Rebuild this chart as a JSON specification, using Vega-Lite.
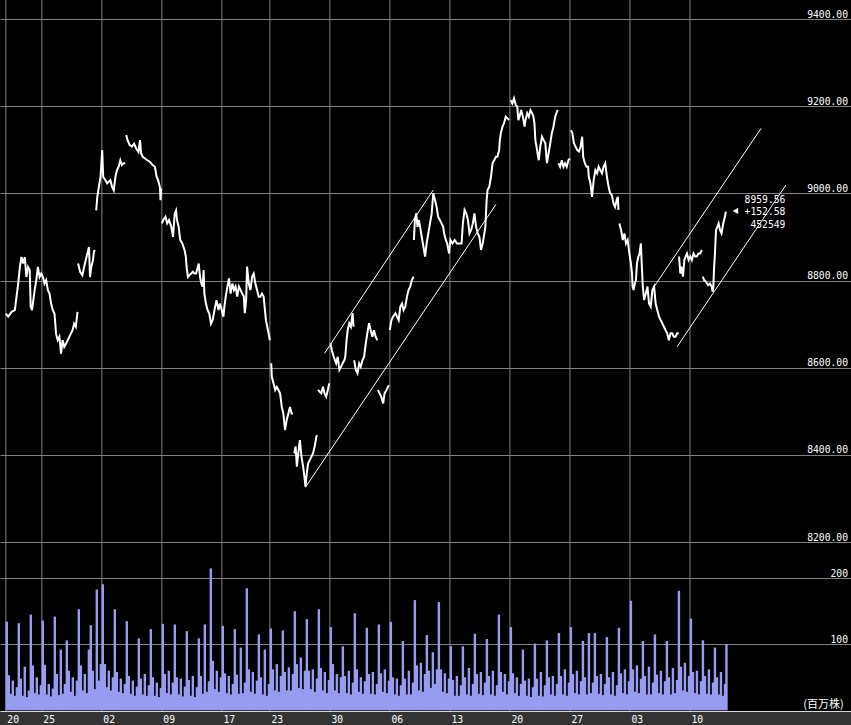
{
"$schema": "https://vega.github.io/schema/vega-lite/v6.json",
"width": 851, "height": 711,
"autosize": {"type": "none"},
"padding": {"left": 0, "top": 0, "right": 0, "bottom": 14},
"background": "#333333",
"config": {
 "view": {"fill": "#000000", "stroke": null},
 "font": "DejaVu Sans Mono",
 "axis": {"gridColor": "#808080", "gridWidth": 1, "gridOpacity": 1, "domain": false, "ticks": false, "tickSize": 0, "labelColor": "#ffffff", "labelFont": "DejaVu Sans Mono", "labelFontSize": 9.7, "title": null}
},
"datasets": {
 "grid": [{"t":0},{"t":3},{"t":8},{"t":13},{"t":18},{"t":22},{"t":27},{"t":32},{"t":37},{"t":42},{"t":47},{"t":52},{"t":57}],
 "price": [
{"s":1,"t":0.00,"p":8724},{"s":1,"t":0.20,"p":8717},{"s":1,"t":0.48,"p":8728},{"s":1,"t":0.75,"p":8732},{"s":1,"t":0.89,"p":8763},{"s":1,"t":1.03,"p":8793},{"s":1,"t":1.17,"p":8831},{"s":1,"t":1.30,"p":8854},{"s":1,"t":1.44,"p":8839},{"s":1,"t":1.58,"p":8854},{"s":1,"t":1.71,"p":8808},{"s":1,"t":1.85,"p":8831},{"s":1,"t":1.99,"p":8824},{"s":1,"t":2.07,"p":8740},{"s":1,"t":2.18,"p":8732},{"s":1,"t":2.40,"p":8778},{"s":1,"t":2.54,"p":8801},{"s":1,"t":2.67,"p":8831},{"s":1,"t":2.81,"p":8808},{"s":1,"t":2.95,"p":8816},{"s":1,"t":3.09,"p":8808},{"s":1,"t":3.22,"p":8793},{"s":1,"t":3.36,"p":8801},{"s":1,"t":3.50,"p":8778},{"s":1,"t":3.64,"p":8770},{"s":1,"t":3.77,"p":8747},{"s":1,"t":3.91,"p":8732},{"s":1,"t":4.05,"p":8724},{"s":1,"t":4.10,"p":8709},{"s":1,"t":4.18,"p":8678},{"s":1,"t":4.32,"p":8663},{"s":1,"t":4.46,"p":8671},{"s":1,"t":4.60,"p":8632},{"s":1,"t":4.73,"p":8663},{"s":1,"t":4.87,"p":8648},{"s":1,"t":5.01,"p":8655},{"s":1,"t":5.15,"p":8663},{"s":1,"t":5.42,"p":8678},{"s":1,"t":5.56,"p":8686},{"s":1,"t":5.69,"p":8701},{"s":1,"t":5.83,"p":8694},{"s":1,"t":5.97,"p":8728},
{"s":2,"t":6.02,"p":8839},{"s":2,"t":6.19,"p":8820},{"s":2,"t":6.38,"p":8812},{"s":2,"t":6.52,"p":8831},{"s":2,"t":6.66,"p":8847},{"s":2,"t":6.79,"p":8862},{"s":2,"t":6.93,"p":8877},{"s":2,"t":7.01,"p":8808},{"s":2,"t":7.12,"p":8831},{"s":2,"t":7.26,"p":8847},{"s":2,"t":7.34,"p":8866},{"s":2,"t":7.42,"p":8870},
{"s":3,"t":7.53,"p":8961},{"s":3,"t":7.62,"p":8992},{"s":3,"t":7.75,"p":9015},{"s":3,"t":7.89,"p":9038},{"s":3,"t":8.03,"p":9099},{"s":3,"t":8.11,"p":9038},{"s":3,"t":8.30,"p":9030},{"s":3,"t":8.44,"p":9023},{"s":3,"t":8.71,"p":9030},{"s":3,"t":8.85,"p":9015},{"s":3,"t":8.99,"p":9007},{"s":3,"t":9.13,"p":9038},{"s":3,"t":9.26,"p":9053},{"s":3,"t":9.40,"p":9061},{"s":3,"t":9.54,"p":9076},{"s":3,"t":9.67,"p":9065},{"s":3,"t":9.81,"p":9069},{"s":3,"t":9.95,"p":9069},
{"s":4,"t":10.03,"p":9134},{"s":4,"t":10.14,"p":9122},{"s":4,"t":10.31,"p":9111},{"s":4,"t":10.50,"p":9107},{"s":4,"t":10.69,"p":9114},{"s":4,"t":10.86,"p":9103},{"s":4,"t":11.05,"p":9095},{"s":4,"t":11.18,"p":9122},{"s":4,"t":11.27,"p":9092},{"s":4,"t":11.40,"p":9084},{"s":4,"t":11.60,"p":9080},{"s":4,"t":11.79,"p":9076},{"s":4,"t":12.01,"p":9072},{"s":4,"t":12.23,"p":9065},{"s":4,"t":12.42,"p":9061},{"s":4,"t":12.56,"p":9038},{"s":4,"t":12.69,"p":9030},{"s":4,"t":12.83,"p":9015},{"s":4,"t":12.89,"p":8984},{"s":4,"t":12.94,"p":9011},
{"s":5,"t":13.00,"p":8931},{"s":5,"t":13.11,"p":8939},{"s":5,"t":13.30,"p":8946},{"s":5,"t":13.44,"p":8931},{"s":5,"t":13.60,"p":8939},{"s":5,"t":13.79,"p":8923},{"s":5,"t":13.93,"p":8900},{"s":5,"t":14.07,"p":8954},{"s":5,"t":14.18,"p":8961},{"s":5,"t":14.26,"p":8939},{"s":5,"t":14.40,"p":8923},{"s":5,"t":14.53,"p":8893},{"s":5,"t":14.70,"p":8885},{"s":5,"t":14.89,"p":8870},{"s":5,"t":15.00,"p":8854},{"s":5,"t":15.06,"p":8831},{"s":5,"t":15.17,"p":8808},{"s":5,"t":15.30,"p":8812},{"s":5,"t":15.44,"p":8816},{"s":5,"t":15.58,"p":8820},{"s":5,"t":15.71,"p":8816},{"s":5,"t":15.85,"p":8816},{"s":5,"t":15.99,"p":8831},{"s":5,"t":16.07,"p":8839},{"s":5,"t":16.18,"p":8808},{"s":5,"t":16.29,"p":8793},{"s":5,"t":16.40,"p":8786},{"s":5,"t":16.48,"p":8824},{"s":5,"t":16.54,"p":8770},{"s":5,"t":16.67,"p":8747},{"s":5,"t":16.81,"p":8732},{"s":5,"t":16.95,"p":8724},{"s":5,"t":17.09,"p":8701},{"s":5,"t":17.22,"p":8709},{"s":5,"t":17.28,"p":8717},{"s":5,"t":17.44,"p":8740},{"s":5,"t":17.55,"p":8755},{"s":5,"t":17.72,"p":8732},{"s":5,"t":17.83,"p":8747},{"s":5,"t":17.99,"p":8732},{"s":5,"t":18.13,"p":8717},{"s":5,"t":18.21,"p":8740},{"s":5,"t":18.32,"p":8763},{"s":5,"t":18.46,"p":8786},{"s":5,"t":18.59,"p":8805},{"s":5,"t":18.73,"p":8770},{"s":5,"t":18.87,"p":8793},{"s":5,"t":19.01,"p":8778},{"s":5,"t":19.14,"p":8786},{"s":5,"t":19.28,"p":8763},{"s":5,"t":19.42,"p":8786},{"s":5,"t":19.56,"p":8778},{"s":5,"t":19.69,"p":8770},{"s":5,"t":19.83,"p":8763},{"s":5,"t":19.91,"p":8725},{"s":5,"t":20.02,"p":8755},{"s":5,"t":20.10,"p":8832},{"s":5,"t":20.24,"p":8793},{"s":5,"t":20.38,"p":8778},{"s":5,"t":20.52,"p":8809},{"s":5,"t":20.65,"p":8816},{"s":5,"t":20.79,"p":8793},{"s":5,"t":20.93,"p":8778},{"s":5,"t":21.07,"p":8763},{"s":5,"t":21.20,"p":8763},{"s":5,"t":21.34,"p":8770},{"s":5,"t":21.48,"p":8763},{"s":5,"t":21.56,"p":8740},{"s":5,"t":21.67,"p":8709},{"s":5,"t":21.78,"p":8694},{"s":5,"t":21.89,"p":8679},{"s":5,"t":22.00,"p":8663},
{"s":6,"t":22.11,"p":8610},{"s":6,"t":22.16,"p":8579},{"s":6,"t":22.30,"p":8564},{"s":6,"t":22.44,"p":8549},{"s":6,"t":22.57,"p":8556},{"s":6,"t":22.71,"p":8549},{"s":6,"t":22.85,"p":8541},{"s":6,"t":22.99,"p":8510},{"s":6,"t":23.12,"p":8495},{"s":6,"t":23.26,"p":8457},{"s":6,"t":23.40,"p":8480},{"s":6,"t":23.54,"p":8495},{"s":6,"t":23.67,"p":8510},{"s":6,"t":23.81,"p":8495},{"s":6,"t":23.92,"p":8495},
{"s":7,"t":24.03,"p":8403},{"s":7,"t":24.14,"p":8419},{"s":7,"t":24.25,"p":8373},{"s":7,"t":24.36,"p":8403},{"s":7,"t":24.50,"p":8434},{"s":7,"t":24.63,"p":8396},{"s":7,"t":24.77,"p":8373},{"s":7,"t":24.91,"p":8342},{"s":7,"t":24.96,"p":8327},{"s":7,"t":25.07,"p":8357},{"s":7,"t":25.18,"p":8380},{"s":7,"t":25.32,"p":8388},{"s":7,"t":25.46,"p":8396},{"s":7,"t":25.59,"p":8403},{"s":7,"t":25.73,"p":8419},{"s":7,"t":25.87,"p":8442},{"s":7,"t":25.95,"p":8445},
{"s":8,"t":26.01,"p":8549},{"s":8,"t":26.14,"p":8545},{"s":8,"t":26.28,"p":8541},{"s":8,"t":26.42,"p":8556},{"s":8,"t":26.55,"p":8541},{"s":8,"t":26.69,"p":8533},{"s":8,"t":26.83,"p":8549},{"s":8,"t":26.94,"p":8564},
{"s":9,"t":27.05,"p":8656},{"s":9,"t":27.16,"p":8640},{"s":9,"t":27.32,"p":8625},{"s":9,"t":27.52,"p":8610},{"s":9,"t":27.65,"p":8625},{"s":9,"t":27.79,"p":8595},{"s":9,"t":27.93,"p":8602},{"s":9,"t":28.06,"p":8610},{"s":9,"t":28.20,"p":8617},{"s":9,"t":28.28,"p":8625},{"s":9,"t":28.39,"p":8663},{"s":9,"t":28.48,"p":8686},{"s":9,"t":28.61,"p":8702},{"s":9,"t":28.75,"p":8694},{"s":9,"t":28.89,"p":8725},{"s":9,"t":28.97,"p":8694},
{"s":10,"t":29.02,"p":8617},{"s":10,"t":29.16,"p":8595},{"s":10,"t":29.30,"p":8587},{"s":10,"t":29.44,"p":8610},{"s":10,"t":29.57,"p":8602},{"s":10,"t":29.71,"p":8617},{"s":10,"t":29.85,"p":8625},{"s":10,"t":29.99,"p":8656},{"s":10,"t":30.12,"p":8679},{"s":10,"t":30.26,"p":8702},{"s":10,"t":30.40,"p":8686},{"s":10,"t":30.54,"p":8671},{"s":10,"t":30.67,"p":8686},{"s":10,"t":30.81,"p":8671},{"s":10,"t":30.95,"p":8663},
{"s":11,"t":31.00,"p":8549},{"s":11,"t":31.14,"p":8541},{"s":11,"t":31.28,"p":8533},{"s":11,"t":31.44,"p":8518},{"s":11,"t":31.55,"p":8541},{"s":11,"t":31.72,"p":8549},{"s":11,"t":31.91,"p":8560},
{"s":12,"t":31.99,"p":8686},{"s":12,"t":32.13,"p":8709},{"s":12,"t":32.26,"p":8717},{"s":12,"t":32.46,"p":8725},{"s":12,"t":32.59,"p":8717},{"s":12,"t":32.73,"p":8709},{"s":12,"t":32.87,"p":8740},{"s":12,"t":33.01,"p":8747},{"s":12,"t":33.14,"p":8732},{"s":12,"t":33.28,"p":8740},{"s":12,"t":33.42,"p":8763},{"s":12,"t":33.55,"p":8778},{"s":12,"t":33.69,"p":8786},{"s":12,"t":33.83,"p":8801},{"s":12,"t":33.97,"p":8809},
{"s":13,"t":34.00,"p":8893},{"s":13,"t":34.08,"p":8939},{"s":13,"t":34.19,"p":8954},{"s":13,"t":34.30,"p":8923},{"s":13,"t":34.41,"p":8939},{"s":13,"t":34.52,"p":8923},{"s":13,"t":34.65,"p":8900},{"s":13,"t":34.79,"p":8878},{"s":13,"t":34.93,"p":8855},{"s":13,"t":35.06,"p":8885},{"s":13,"t":35.20,"p":8908},{"s":13,"t":35.34,"p":8931},{"s":13,"t":35.48,"p":8954},{"s":13,"t":35.61,"p":9000},{"s":13,"t":35.75,"p":8985},{"s":13,"t":35.89,"p":8969},{"s":13,"t":36.02,"p":8946},{"s":13,"t":36.16,"p":8939},{"s":13,"t":36.30,"p":8931},{"s":13,"t":36.44,"p":8923},{"s":13,"t":36.52,"p":8908},{"s":13,"t":36.66,"p":8893},{"s":13,"t":36.77,"p":8885},{"s":13,"t":36.93,"p":8862},{"s":13,"t":37.04,"p":8893},{"s":13,"t":37.21,"p":8885},{"s":13,"t":37.40,"p":8893},{"s":13,"t":37.59,"p":8885},{"s":13,"t":37.81,"p":8885},{"s":13,"t":37.97,"p":8885},{"s":13,"t":38.08,"p":8931},{"s":13,"t":38.22,"p":8962},{"s":13,"t":38.36,"p":8954},{"s":13,"t":38.50,"p":8939},{"s":13,"t":38.63,"p":8908},{"s":13,"t":38.77,"p":8916},{"s":13,"t":38.91,"p":8931},{"s":13,"t":39.04,"p":8954},{"s":13,"t":39.18,"p":8923},{"s":13,"t":39.32,"p":8908},{"s":13,"t":39.46,"p":8900},{"s":13,"t":39.59,"p":8870},{"s":13,"t":39.73,"p":8885},{"s":13,"t":39.87,"p":8908},{"s":13,"t":39.95,"p":8923},{"s":13,"t":40.06,"p":8985},{"s":13,"t":40.14,"p":9008},{"s":13,"t":40.28,"p":9015},{"s":13,"t":40.42,"p":9038},{"s":13,"t":40.55,"p":9069},{"s":13,"t":40.69,"p":9076},{"s":13,"t":40.83,"p":9084},{"s":13,"t":40.96,"p":9084},{"s":13,"t":41.10,"p":9099},{"s":13,"t":41.16,"p":9122},{"s":13,"t":41.24,"p":9138},{"s":13,"t":41.38,"p":9153},{"s":13,"t":41.51,"p":9161},{"s":13,"t":41.65,"p":9176},{"s":13,"t":41.79,"p":9172},{"s":13,"t":41.93,"p":9168},
{"s":14,"t":42.06,"p":9214},{"s":14,"t":42.20,"p":9206},{"s":14,"t":42.34,"p":9218},{"s":14,"t":42.48,"p":9203},{"s":14,"t":42.61,"p":9199},{"s":14,"t":42.70,"p":9168},{"s":14,"t":42.80,"p":9176},{"s":14,"t":42.94,"p":9191},{"s":14,"t":43.08,"p":9176},{"s":14,"t":43.22,"p":9153},{"s":14,"t":43.30,"p":9168},{"s":14,"t":43.44,"p":9184},{"s":14,"t":43.57,"p":9176},{"s":14,"t":43.71,"p":9191},{"s":14,"t":43.85,"p":9184},{"s":14,"t":43.96,"p":9176},{"s":14,"t":44.04,"p":9161},{"s":14,"t":44.12,"p":9122},{"s":14,"t":44.26,"p":9099},{"s":14,"t":44.40,"p":9076},{"s":14,"t":44.53,"p":9107},{"s":14,"t":44.67,"p":9130},{"s":14,"t":44.81,"p":9122},{"s":14,"t":44.95,"p":9115},{"s":14,"t":45.08,"p":9069},{"s":14,"t":45.22,"p":9092},{"s":14,"t":45.36,"p":9115},{"s":14,"t":45.49,"p":9138},{"s":14,"t":45.63,"p":9153},{"s":14,"t":45.77,"p":9176},{"s":14,"t":45.91,"p":9187},{"s":14,"t":45.99,"p":9191},
{"s":15,"t":46.04,"p":9069},{"s":15,"t":46.18,"p":9061},{"s":15,"t":46.32,"p":9076},{"s":15,"t":46.46,"p":9061},{"s":15,"t":46.59,"p":9069},{"s":15,"t":46.73,"p":9061},{"s":15,"t":46.87,"p":9076},{"s":15,"t":47.00,"p":9080},
{"s":16,"t":47.09,"p":9145},{"s":16,"t":47.20,"p":9138},{"s":16,"t":47.33,"p":9115},{"s":16,"t":47.47,"p":9107},{"s":16,"t":47.61,"p":9099},{"s":16,"t":47.75,"p":9096},{"s":16,"t":47.88,"p":9107},{"s":16,"t":48.02,"p":9130},{"s":16,"t":48.10,"p":9084},{"s":16,"t":48.24,"p":9069},{"s":16,"t":48.38,"p":9061},{"s":16,"t":48.51,"p":9061},{"s":16,"t":48.57,"p":9038},{"s":16,"t":48.71,"p":9023},{"s":16,"t":48.84,"p":8992},{"s":16,"t":48.98,"p":9031},{"s":16,"t":49.12,"p":9053},{"s":16,"t":49.26,"p":9046},{"s":16,"t":49.39,"p":9061},{"s":16,"t":49.53,"p":9053},{"s":16,"t":49.67,"p":9046},{"s":16,"t":49.80,"p":9061},{"s":16,"t":49.94,"p":9069},{"s":16,"t":50.08,"p":9038},{"s":16,"t":50.22,"p":9015},{"s":16,"t":50.35,"p":9000},{"s":16,"t":50.49,"p":8996},{"s":16,"t":50.63,"p":8977},{"s":16,"t":50.76,"p":8969},{"s":16,"t":50.90,"p":8985},{"s":16,"t":50.99,"p":8992},{"s":16,"t":51.04,"p":8962},
{"s":17,"t":51.12,"p":8931},{"s":17,"t":51.26,"p":8916},{"s":17,"t":51.40,"p":8893},{"s":17,"t":51.54,"p":8908},{"s":17,"t":51.67,"p":8885},{"s":17,"t":51.81,"p":8893},{"s":17,"t":51.95,"p":8862},{"s":17,"t":52.08,"p":8839},{"s":17,"t":52.17,"p":8816},{"s":17,"t":52.22,"p":8786},{"s":17,"t":52.30,"p":8778},{"s":17,"t":52.41,"p":8793},{"s":17,"t":52.50,"p":8801},{"s":17,"t":52.58,"p":8839},{"s":17,"t":52.69,"p":8854},{"s":17,"t":52.80,"p":8862},{"s":17,"t":52.91,"p":8885},{"s":17,"t":52.99,"p":8832},{"s":17,"t":53.07,"p":8786},{"s":17,"t":53.18,"p":8755},{"s":17,"t":53.32,"p":8770},{"s":17,"t":53.46,"p":8786},{"s":17,"t":53.59,"p":8747},{"s":17,"t":53.73,"p":8740},{"s":17,"t":53.87,"p":8778},{"s":17,"t":54.01,"p":8786},{"s":17,"t":54.14,"p":8747},{"s":17,"t":54.28,"p":8732},{"s":17,"t":54.42,"p":8717},{"s":17,"t":54.56,"p":8709},{"s":17,"t":54.69,"p":8702},{"s":17,"t":54.83,"p":8694},{"s":17,"t":54.97,"p":8686},{"s":17,"t":55.10,"p":8679},{"s":17,"t":55.24,"p":8663},{"s":17,"t":55.38,"p":8679},{"s":17,"t":55.52,"p":8679},{"s":17,"t":55.65,"p":8671},{"s":17,"t":55.79,"p":8671},{"s":17,"t":55.93,"p":8679},{"s":17,"t":56.07,"p":8679},
{"s":18,"t":56.09,"p":8855},{"s":18,"t":56.20,"p":8816},{"s":18,"t":56.28,"p":8832},{"s":18,"t":56.42,"p":8809},{"s":18,"t":56.53,"p":8847},{"s":18,"t":56.64,"p":8855},{"s":18,"t":56.75,"p":8862},{"s":18,"t":56.89,"p":8847},{"s":18,"t":57.03,"p":8855},{"s":18,"t":57.16,"p":8847},{"s":18,"t":57.30,"p":8862},{"s":18,"t":57.44,"p":8855},{"s":18,"t":57.57,"p":8855},{"s":18,"t":57.71,"p":8862},{"s":18,"t":57.85,"p":8862},{"s":18,"t":57.99,"p":8870},
{"s":19,"t":58.07,"p":8809},{"s":19,"t":58.18,"p":8801},{"s":19,"t":58.34,"p":8797},{"s":19,"t":58.51,"p":8789},{"s":19,"t":58.67,"p":8793},{"s":19,"t":58.81,"p":8786},{"s":19,"t":58.89,"p":8774},{"s":19,"t":58.95,"p":8786},{"s":19,"t":59.00,"p":8824},{"s":19,"t":59.08,"p":8862},{"s":19,"t":59.17,"p":8916},{"s":19,"t":59.28,"p":8923},{"s":19,"t":59.39,"p":8931},{"s":19,"t":59.50,"p":8916},{"s":19,"t":59.63,"p":8908},{"s":19,"t":59.77,"p":8931},{"s":19,"t":59.91,"p":8946},{"s":19,"t":59.99,"p":8958}
 ],
 "vol": [
{"t":0.08,"v":134},{"t":0.25,"v":53},{"t":0.42,"v":25},{"t":0.58,"v":45},{"t":0.75,"v":22},{"t":0.92,"v":35},
{"t":1.08,"v":132},{"t":1.25,"v":48},{"t":1.42,"v":22},{"t":1.58,"v":66},{"t":1.75,"v":20},{"t":1.92,"v":30},
{"t":2.08,"v":145},{"t":2.25,"v":68},{"t":2.42,"v":26},{"t":2.58,"v":50},{"t":2.75,"v":24},{"t":2.92,"v":38},
{"t":3.08,"v":136},{"t":3.25,"v":69},{"t":3.42,"v":24},{"t":3.58,"v":40},{"t":3.75,"v":21},{"t":3.92,"v":33},
{"t":4.08,"v":142},{"t":4.25,"v":55},{"t":4.42,"v":23},{"t":4.58,"v":92},{"t":4.75,"v":25},{"t":4.92,"v":40},
{"t":5.08,"v":106},{"t":5.25,"v":60},{"t":5.42,"v":28},{"t":5.58,"v":50},{"t":5.75,"v":22},{"t":5.92,"v":45},
{"t":6.08,"v":153},{"t":6.25,"v":68},{"t":6.42,"v":30},{"t":6.58,"v":55},{"t":6.75,"v":26},{"t":6.92,"v":92},
{"t":7.08,"v":129},{"t":7.25,"v":60},{"t":7.42,"v":32},{"t":7.58,"v":183},{"t":7.75,"v":45},{"t":7.92,"v":70},
{"t":8.08,"v":191},{"t":8.25,"v":70},{"t":8.42,"v":35},{"t":8.58,"v":60},{"t":8.75,"v":30},{"t":8.92,"v":50},
{"t":9.08,"v":153},{"t":9.25,"v":58},{"t":9.42,"v":28},{"t":9.58,"v":48},{"t":9.75,"v":26},{"t":9.92,"v":40},
{"t":10.08,"v":135},{"t":10.25,"v":52},{"t":10.42,"v":25},{"t":10.58,"v":45},{"t":10.75,"v":22},{"t":10.92,"v":36},
{"t":11.08,"v":109},{"t":11.25,"v":48},{"t":11.42,"v":24},{"t":11.58,"v":55},{"t":11.75,"v":22},{"t":11.92,"v":38},
{"t":12.08,"v":123},{"t":12.25,"v":50},{"t":12.42,"v":22},{"t":12.58,"v":42},{"t":12.75,"v":20},{"t":12.92,"v":34},
{"t":13.08,"v":131},{"t":13.25,"v":55},{"t":13.42,"v":26},{"t":13.58,"v":60},{"t":13.75,"v":24},{"t":13.92,"v":42},
{"t":14.08,"v":130},{"t":14.25,"v":50},{"t":14.42,"v":24},{"t":14.58,"v":48},{"t":14.75,"v":21},{"t":14.92,"v":36},
{"t":15.08,"v":120},{"t":15.25,"v":46},{"t":15.42,"v":22},{"t":15.58,"v":52},{"t":15.75,"v":20},{"t":15.92,"v":35},
{"t":16.08,"v":109},{"t":16.25,"v":52},{"t":16.42,"v":25},{"t":16.58,"v":130},{"t":16.75,"v":28},{"t":16.92,"v":44},
{"t":17.08,"v":215},{"t":17.25,"v":75},{"t":17.42,"v":32},{"t":17.58,"v":60},{"t":17.75,"v":28},{"t":17.92,"v":50},
{"t":18.08,"v":128},{"t":18.25,"v":56},{"t":18.42,"v":26},{"t":18.58,"v":52},{"t":18.75,"v":24},{"t":18.92,"v":40},
{"t":19.08,"v":123},{"t":19.25,"v":54},{"t":19.42,"v":25},{"t":19.58,"v":95},{"t":19.75,"v":26},{"t":19.92,"v":42},
{"t":20.08,"v":185},{"t":20.25,"v":62},{"t":20.42,"v":28},{"t":20.58,"v":58},{"t":20.75,"v":25},{"t":20.92,"v":45},
{"t":21.08,"v":115},{"t":21.25,"v":50},{"t":21.42,"v":24},{"t":21.58,"v":92},{"t":21.75,"v":22},{"t":21.92,"v":40},
{"t":22.08,"v":124},{"t":22.25,"v":62},{"t":22.42,"v":30},{"t":22.58,"v":70},{"t":22.75,"v":28},{"t":22.92,"v":52},
{"t":23.08,"v":121},{"t":23.25,"v":58},{"t":23.42,"v":30},{"t":23.58,"v":65},{"t":23.75,"v":30},{"t":23.92,"v":55},
{"t":24.08,"v":150},{"t":24.25,"v":70},{"t":24.42,"v":34},{"t":24.58,"v":80},{"t":24.75,"v":32},{"t":24.92,"v":60},
{"t":25.08,"v":138},{"t":25.25,"v":60},{"t":25.42,"v":32},{"t":25.58,"v":62},{"t":25.75,"v":28},{"t":25.92,"v":48},
{"t":26.08,"v":153},{"t":26.25,"v":64},{"t":26.42,"v":30},{"t":26.58,"v":58},{"t":26.75,"v":26},{"t":26.92,"v":46},
{"t":27.08,"v":126},{"t":27.25,"v":70},{"t":27.42,"v":30},{"t":27.58,"v":55},{"t":27.75,"v":26},{"t":27.92,"v":50},
{"t":28.08,"v":97},{"t":28.25,"v":52},{"t":28.42,"v":26},{"t":28.58,"v":60},{"t":28.75,"v":24},{"t":28.92,"v":42},
{"t":29.08,"v":147},{"t":29.25,"v":62},{"t":29.42,"v":28},{"t":29.58,"v":50},{"t":29.75,"v":25},{"t":29.92,"v":44},
{"t":30.08,"v":125},{"t":30.25,"v":55},{"t":30.42,"v":25},{"t":30.58,"v":58},{"t":30.75,"v":24},{"t":30.92,"v":40},
{"t":31.08,"v":130},{"t":31.25,"v":56},{"t":31.42,"v":28},{"t":31.58,"v":62},{"t":31.75,"v":26},{"t":31.92,"v":45},
{"t":32.08,"v":134},{"t":32.25,"v":50},{"t":32.42,"v":24},{"t":32.58,"v":48},{"t":32.75,"v":22},{"t":32.92,"v":38},
{"t":33.08,"v":105},{"t":33.25,"v":48},{"t":33.42,"v":24},{"t":33.58,"v":60},{"t":33.75,"v":24},{"t":33.92,"v":42},
{"t":34.08,"v":167},{"t":34.25,"v":68},{"t":34.42,"v":30},{"t":34.58,"v":72},{"t":34.75,"v":28},{"t":34.92,"v":55},
{"t":35.08,"v":114},{"t":35.25,"v":60},{"t":35.42,"v":34},{"t":35.58,"v":88},{"t":35.75,"v":40},{"t":35.92,"v":62},
{"t":36.08,"v":164},{"t":36.25,"v":62},{"t":36.42,"v":28},{"t":36.58,"v":56},{"t":36.75,"v":26},{"t":36.92,"v":48},
{"t":37.08,"v":97},{"t":37.25,"v":46},{"t":37.42,"v":22},{"t":37.58,"v":52},{"t":37.75,"v":22},{"t":37.92,"v":38},
{"t":38.08,"v":97},{"t":38.25,"v":50},{"t":38.42,"v":24},{"t":38.58,"v":64},{"t":38.75,"v":22},{"t":38.92,"v":40},
{"t":39.08,"v":116},{"t":39.25,"v":55},{"t":39.42,"v":25},{"t":39.58,"v":58},{"t":39.75,"v":23},{"t":39.92,"v":42},
{"t":40.08,"v":108},{"t":40.25,"v":52},{"t":40.42,"v":24},{"t":40.58,"v":60},{"t":40.75,"v":22},{"t":40.92,"v":38},
{"t":41.08,"v":145},{"t":41.25,"v":58},{"t":41.42,"v":28},{"t":41.58,"v":55},{"t":41.75,"v":24},{"t":41.92,"v":44},
{"t":42.08,"v":126},{"t":42.25,"v":56},{"t":42.42,"v":26},{"t":42.58,"v":50},{"t":42.75,"v":22},{"t":42.92,"v":40},
{"t":43.08,"v":92},{"t":43.25,"v":45},{"t":43.42,"v":22},{"t":43.58,"v":48},{"t":43.75,"v":20},{"t":43.92,"v":35},
{"t":44.08,"v":101},{"t":44.25,"v":48},{"t":44.42,"v":22},{"t":44.58,"v":58},{"t":44.75,"v":21},{"t":44.92,"v":38},
{"t":45.08,"v":106},{"t":45.25,"v":50},{"t":45.42,"v":24},{"t":45.58,"v":52},{"t":45.75,"v":22},{"t":45.92,"v":40},
{"t":46.08,"v":117},{"t":46.25,"v":52},{"t":46.42,"v":24},{"t":46.58,"v":62},{"t":46.75,"v":22},{"t":46.92,"v":42},
{"t":47.08,"v":126},{"t":47.25,"v":55},{"t":47.42,"v":26},{"t":47.58,"v":60},{"t":47.75,"v":24},{"t":47.92,"v":44},
{"t":48.08,"v":105},{"t":48.25,"v":50},{"t":48.42,"v":24},{"t":48.58,"v":117},{"t":48.75,"v":26},{"t":48.92,"v":42},
{"t":49.08,"v":117},{"t":49.25,"v":52},{"t":49.42,"v":25},{"t":49.58,"v":55},{"t":49.75,"v":23},{"t":49.92,"v":40},
{"t":50.08,"v":111},{"t":50.25,"v":50},{"t":50.42,"v":24},{"t":50.58,"v":58},{"t":50.75,"v":22},{"t":50.92,"v":38},
{"t":51.08,"v":125},{"t":51.25,"v":56},{"t":51.42,"v":26},{"t":51.58,"v":62},{"t":51.75,"v":24},{"t":51.92,"v":44},
{"t":52.08,"v":166},{"t":52.25,"v":62},{"t":52.42,"v":28},{"t":52.58,"v":68},{"t":52.75,"v":26},{"t":52.92,"v":48},
{"t":53.08,"v":105},{"t":53.25,"v":52},{"t":53.42,"v":24},{"t":53.58,"v":66},{"t":53.75,"v":24},{"t":53.92,"v":42},
{"t":54.08,"v":115},{"t":54.25,"v":54},{"t":54.42,"v":26},{"t":54.58,"v":60},{"t":54.75,"v":24},{"t":54.92,"v":44},
{"t":55.08,"v":105},{"t":55.25,"v":50},{"t":55.42,"v":24},{"t":55.58,"v":64},{"t":55.75,"v":26},{"t":55.92,"v":46},
{"t":56.08,"v":181},{"t":56.25,"v":66},{"t":56.42,"v":30},{"t":56.58,"v":72},{"t":56.75,"v":28},{"t":56.92,"v":52},
{"t":57.08,"v":139},{"t":57.25,"v":58},{"t":57.42,"v":26},{"t":57.58,"v":60},{"t":57.75,"v":24},{"t":57.92,"v":44},
{"t":58.08,"v":106},{"t":58.25,"v":52},{"t":58.42,"v":25},{"t":58.58,"v":62},{"t":58.75,"v":24},{"t":58.92,"v":42},
{"t":59.08,"v":95},{"t":59.25,"v":50},{"t":59.42,"v":24},{"t":59.58,"v":58},{"t":59.75,"v":22},{"t":59.92,"v":40},
{"t":60.04,"v":100}
 ],
 "chan": [
  {"t":24.96,"p":8325.5,"t2":40.83,"p2":8974.4},
  {"t":26.55,"p":8632.9,"t2":35.61,"p2":9007.6},
  {"t":54.01,"p":8785.8,"t2":62.93,"p2":9149.2},
  {"t":55.93,"p":8648.1,"t2":64.99,"p2":9019.1}
 ],
 "ann": [
  {"t":64.95,"p":8984.7,"label":"8959.56"},
  {"t":64.95,"p":8957.2,"label":"+152.58"},
  {"t":64.95,"p":8927.3,"label":"452549"}
 ],
 "marker": [{"t":60.79,"p":8959.56}],
 "unit": [{"t":69.8,"v":0.3,"label":"(百万株)"}]
},
"encoding": {
 "x": {"field": "t", "type": "quantitative",
  "scale": {"domain": [-0.07, 70.0], "nice": false, "zero": false},
  "axis": {"values": [0,3,8,13,18,22,27,32,37,42,47,52,57],
   "labelExpr": "['20','25','02','09','17','23','30','06','13','20','27','03','10'][indexof([0,3,8,13,18,22,27,32,37,42,47,52,57], datum.value)]",
   "labelAlign": "left", "labelBaseline": "alphabetic", "labelPadding": 11, "labelOffset": 1,
   "labelFlush": false, "labelOverlap": false, "grid": false,
   "domain": true, "domainColor": "#d8d8d8", "domainWidth": 1, "title": null}}
},
"layer": [
 {"data": {"name": "grid"}, "mark": {"type": "rule", "color": "#808080", "strokeWidth": 1}, "encoding": {}},
 {
  "encoding": {
   "y": {"field": "p", "type": "quantitative",
    "scale": {"domain": [8117.4, 9443.6], "range": [578, 0], "nice": false, "zero": false},
    "axis": {"orient": "right", "values": [8200,8400,8600,8800,9000,9200,9400], "format": ".2f",
     "labelAlign": "right", "labelBaseline": "alphabetic", "labelPadding": -3.5, "labelOffset": -2,
     "grid": true, "title": null}}
  },
  "layer": [
   {"data": {"name": "price"}, "mark": {"type": "line", "color": "#ffffff", "strokeWidth": 2},
    "encoding": {"detail": {"field": "s", "type": "nominal"}}},
   {"data": {"name": "chan"}, "mark": {"type": "rule", "color": "#ffffff", "strokeWidth": 1},
    "encoding": {"x2": {"field": "t2"}, "y2": {"field": "p2"}}},
   {"data": {"name": "marker"}, "mark": {"type": "point", "shape": "triangle-left", "filled": true, "color": "#ffffff", "size": 40, "opacity": 1},
    "encoding": {}},
   {"data": {"name": "ann"}, "mark": {"type": "text", "color": "#ffffff", "align": "right", "baseline": "middle", "font": "DejaVu Sans Mono", "fontSize": 9.7},
    "encoding": {"text": {"field": "label"}}}
  ]
 },
 {
  "encoding": {
   "y": {"field": "v", "type": "quantitative",
    "scale": {"domain": [0, 200], "range": [710.3, 578.3], "nice": false, "zero": true},
    "axis": {"orient": "right", "values": [100, 200], "format": "d",
     "labelAlign": "right", "labelBaseline": "alphabetic", "labelPadding": -3.5, "labelOffset": -2,
     "grid": true, "title": null}}
  },
  "layer": [
   {"data": {"name": "vol"}, "mark": {"type": "bar", "orient": "vertical", "width": 2.4, "color": "#989cf0"}, "encoding": {}},
   {"data": {"name": "unit"}, "mark": {"type": "text", "color": "#ffffff", "align": "right", "baseline": "bottom", "font": "Noto Sans CJK JP", "fontSize": 11},
    "encoding": {"text": {"field": "label"}}}
  ]
 }
],
"resolve": {"scale": {"y": "independent"}, "axis": {"y": "independent"}}
}
